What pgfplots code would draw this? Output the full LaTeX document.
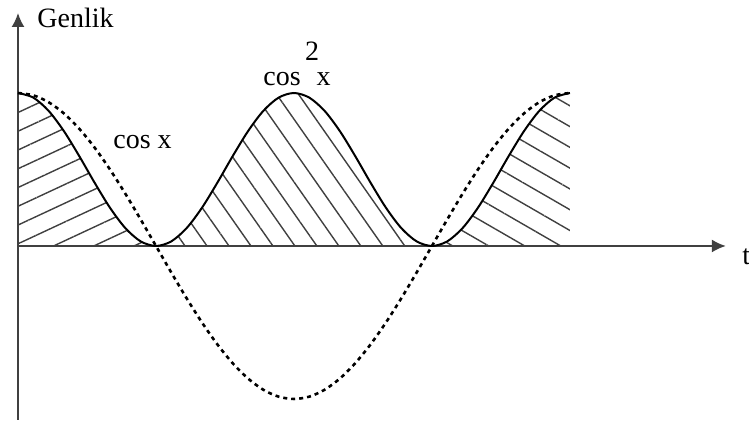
\documentclass[border=0pt]{standalone}
\usepackage{pgfplots}
\pgfplotsset{compat=1.18}
\usepackage{pgfplotstable}
\usepackage{fontspec}
\setmainfont{Liberation Serif}
\usetikzlibrary{patterns.meta,arrows.meta}

\pgfplotstableread{
x y
0 1
10 0.9848
20 0.9397
30 0.8660
40 0.7660
50 0.6428
60 0.5
70 0.3420
80 0.1736
90 0
100 -0.1736
110 -0.3420
120 -0.5
130 -0.6428
140 -0.7660
150 -0.8660
160 -0.9397
170 -0.9848
180 -1
190 -0.9848
200 -0.9397
210 -0.8660
220 -0.7660
230 -0.6428
240 -0.5
250 -0.3420
260 -0.1736
270 0
280 0.1736
290 0.3420
300 0.5
310 0.6428
320 0.7660
330 0.8660
340 0.9397
350 0.9848
360 1
}\cosdata

\pgfplotstableread{
x y
0 1
10 0.9698
20 0.8830
30 0.75
40 0.5868
50 0.4132
60 0.25
70 0.1170
80 0.0302
90 0
100 0.0302
110 0.1170
120 0.25
130 0.4132
140 0.5868
150 0.75
160 0.8830
170 0.9698
180 1
190 0.9698
200 0.8830
210 0.75
220 0.5868
230 0.4132
240 0.25
250 0.1170
260 0.0302
270 0
280 0.0302
290 0.1170
300 0.25
310 0.4132
320 0.5868
330 0.75
340 0.8830
350 0.9698
360 1
}\cossqdata

\begin{document}
\begin{tikzpicture}
\begin{axis}[
  x=0.766667pt, y=76.5pt,
  xmin=0, xmax=461.7, ymin=-1.137, ymax=1.523,
  axis lines=middle,
  axis line style={black!75, line width=0.9pt, -{Latex[length=7pt,width=6.5pt]}},
  xtick=\empty, ytick=\empty,
  clip=false,
  font=\fontsize{14}{16}\selectfont,
]
% hatched regions under cos^2 x
\addplot[draw=none, pattern={Lines[angle=25,distance=8.5pt,line width=0.7pt]}, pattern color=black!75, smooth, restrict x to domain=0:90] table {\cossqdata} \closedcycle;
\addplot[draw=none, pattern={Lines[angle=-55,distance=9pt,line width=0.7pt]}, pattern color=black!75, smooth, restrict x to domain=90:270] table {\cossqdata} \closedcycle;
\addplot[draw=none, pattern={Lines[angle=-30,distance=9pt,line width=0.7pt]}, pattern color=black!75, smooth, restrict x to domain=270:360] table {\cossqdata} \closedcycle;
% curves
\addplot[black, line width=1pt, smooth] table {\cossqdata};
\addplot[black, line width=1.3pt, dash pattern=on 2pt off 2pt, smooth] table {\cosdata};
% labels
\node[anchor=base west, inner sep=0pt] at (axis cs:12.4,1.425) {Genlik};
\node[anchor=base west, inner sep=0pt] at (axis cs:62,0.6405) {cos x};
\node[anchor=base west, inner sep=0pt] at (axis cs:159.8,1.052) {cos};
\node[anchor=base west, inner sep=0pt] at (axis cs:187,1.21) {2};
\node[anchor=base west, inner sep=0pt] at (axis cs:194.5,1.052) {x};
\node[anchor=base west, inner sep=0pt] at (axis cs:472.2,-0.124) {t};
\coordinate (bbsw) at (axis cs:-11.74,-1.144);
\coordinate (bbne) at (axis cs:476.8,1.608);
\end{axis}
\pgfresetboundingbox
\path[use as bounding box] (bbsw) rectangle (bbne);
\end{tikzpicture}
\end{document}
